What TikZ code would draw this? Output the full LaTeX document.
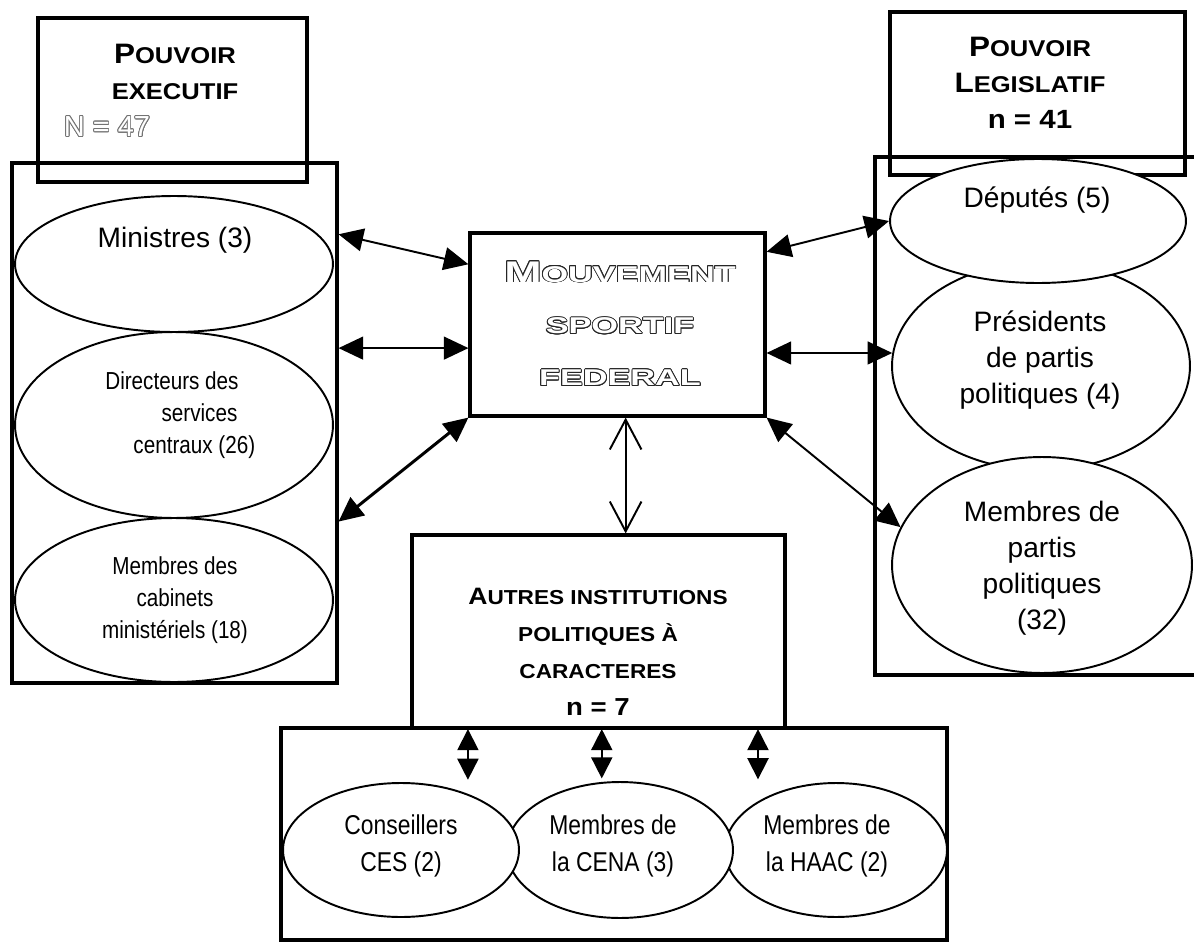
\documentclass[tikz,border=0pt]{standalone}
\usepackage{fontspec}
\setmainfont{Liberation Sans}
\newfontfamily\narrowfont[FakeStretch=0.84]{Liberation Sans}
\newfontfamily\widefont[FakeStretch=1.12]{Liberation Sans}
\newfontfamily\outlinefont[FakeStretch=1.5]{Liberation Sans}
\usepackage{contour}
\contourlength{0.5pt}
\usetikzlibrary{arrows.meta,shapes.geometric}
\newcommand{\ini}[2][16]{{\fontsize{#1}{20.4}\selectfont #2}}
\tikzset{
  box/.style={draw, line width=1.8pt, inner sep=0pt},
  oval/.style={draw, ellipse, fill=white, line width=1.1pt, inner sep=0pt},
  title/.style={align=center, inner sep=0pt, font=\widefont\bfseries\fontsize{13}{20.4}\selectfont},
  big/.style={align=center, inner sep=0pt, font=\fontsize{16}{20.4}\selectfont},
  slim/.style={align=center, inner sep=0pt, font=\narrowfont\fontsize{14}{18.4}\selectfont},
  slimbig/.style={slim, font=\narrowfont\fontsize{15.5}{21.5}\selectfont},
  link/.style={{Triangle[length=14pt,width=13pt]}-{Triangle[length=14pt,width=13pt]}, line width=1.1pt},
  stub/.style={{Triangle[length=12pt,width=12pt]}-{Triangle[length=12pt,width=12pt]}, line width=1pt},
}
\begin{document}
\begin{tikzpicture}[x=0.02cm, y=-0.02cm]
\useasboundingbox (0,0) rectangle (1194,943);
% pouvoir executif
\node[box, minimum width=6.5cm, minimum height=10.4cm] (execbox) at (174.5,423) {};
\node[box, minimum width=5.38cm, minimum height=3.28cm] (exectitle) at (172.5,100) {};
\node[title] (exectxt) at (175,72) {\ini{P}OUVOIR\\EXECUTIF};
\node[inner sep=0pt, text=white, font=\fontsize{16.5}{20}\selectfont] (execn) at (107,127) {\contour{black!55}{N = 47}};
\node[oval, minimum width=6.36cm, minimum height=2.72cm] (ministres) at (174,264) {};
\node[oval, minimum width=6.36cm, minimum height=3.72cm] (directeurs) at (174,425) {};
\node[oval, minimum width=6.36cm, minimum height=3.28cm] (cabinets) at (174,600) {};
\node[big] (ministrestxt) at (175,240) {Ministres (3)};
\node[slim, align=left, anchor=west] (directeurstxt) at (105,415) {Directeurs des\\\hspace*{32pt}services\\\hspace*{16pt}centraux (26)};
\node[slim] (cabinetstxt) at (175,600) {Membres des\\cabinets\\ministériels (18)};
% pouvoir legislatif
\node[box, minimum width=6.44cm, minimum height=10.36cm] (legbox) at (1036,416) {};
\node[box, minimum width=5.9cm, minimum height=3.26cm] (legtitle) at (1037.5,93.5) {};
\node[title] (legtxt) at (1030,83) {\ini{P}OUVOIR\\\ini{L}EGISLATIF\\{\fontsize{15}{20.4}\selectfont n = 41}};
\node[oval, minimum width=5.96cm, minimum height=4.16cm] (presidents) at (1041,366) {};
\node[oval, minimum width=5.92cm, minimum height=2.48cm] (deputes) at (1038,221) {};
\node[oval, minimum width=6cm, minimum height=4.32cm] (partis) at (1042,565) {};
\node[big] (deputestxt) at (1037,200) {Députés (5)};
\node[big] (presidentstxt) at (1040,360) {Présidents\\de partis\\politiques (4)};
\node[big] (partistxt) at (1042,568) {Membres de\\partis\\politiques\\(32)};
% mouvement sportif
\node[box, minimum width=5.9cm, minimum height=3.66cm] (mvt) at (617.5,324.5) {};
\node[title, text=white, font=\outlinefont\bfseries\fontsize{13}{29.5}\selectfont] (mvttxt) at (620,324) {\contour{black!85}{\ini[17]{M}OUVEMENT}\\\contour{black!85}{SPORTIF}\\\contour{black!85}{FEDERAL}};
% autres institutions
\node[box, minimum width=13.32cm, minimum height=4.24cm] (autresbox) at (614,834) {};
\node[box, fill=white, minimum width=7.46cm, minimum height=3.86cm] (autres) at (598.5,631.5) {};
\node[title, font=\widefont\bfseries\fontsize{11.5}{21}\selectfont] (autrestxt) at (598,652) {\ini[13.5]{A}UTRES INSTITUTIONS\\POLITIQUES À\\CARACTERES\\{\fontsize{14}{18}\selectfont n = 7}};
\node[oval, minimum width=4.44cm, minimum height=2.68cm] (haac) at (836,850) {};
\node[oval, minimum width=4.52cm, minimum height=2.72cm] (cena) at (620,850) {};
\node[oval, minimum width=4.72cm, minimum height=2.68cm] (ces) at (401,850) {};
\node[slimbig] (cestxt) at (401,846) {Conseillers\\CES (2)};
\node[slimbig] (cenatxt) at (613,846) {Membres de\\la CENA (3)};
\node[slimbig] (haactxt) at (827,846) {Membres de\\la HAAC (2)};
% liens
\draw[link] (execbox.49) -- (mvt.158);
\draw[link] (execbox.east |- mvt.189) -- (mvt.189);
\draw[link, line width=1.7pt] (execbox.329) -- (mvt.south west);
\draw[link] (mvt.26) -- (deputes.west);
\draw[link] (mvt.east |- presidents.175) -- (presidents.175);
\draw[link] (mvt.south east) -- (partis.165);
\draw[{Straight Barb[length=17pt,width=18pt]}-{Straight Barb[length=17pt,width=18pt]}, line width=1.1pt] (mvt.275) -- (mvt.275 |- autres.north);
\foreach \e/\a/\s in {ces/40/8pt, cena/105/2pt, haac/148/12.5pt}
  \draw[stub, shorten <=1.5pt, shorten >=\s] (autresbox.north -| \e.\a) -- (\e.\a);
\end{tikzpicture}
\end{document}
